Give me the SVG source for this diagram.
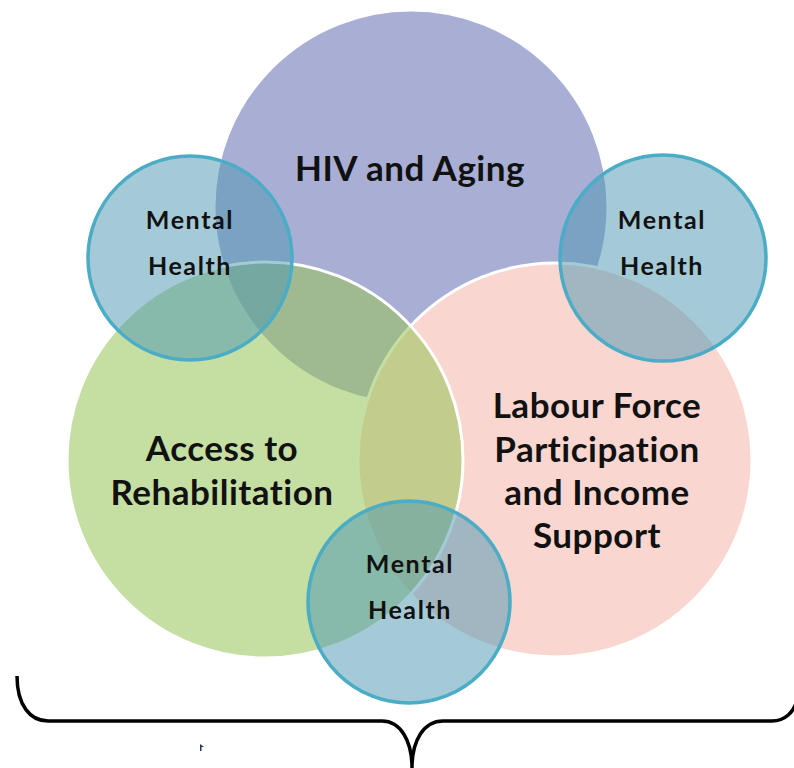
<svg xmlns="http://www.w3.org/2000/svg" width="794" height="768" viewBox="0 0 794 768">
<style>
.big{font-family:Lato,"Liberation Sans",sans-serif;font-weight:700;font-size:35px;letter-spacing:0.5px;fill:#111;text-anchor:middle}
.mh{font-family:Lato,"Liberation Sans",sans-serif;font-weight:700;font-size:25px;letter-spacing:1.6px;fill:#111;text-anchor:middle}
.blue{fill:#4A96B2;fill-opacity:0.5;stroke:#4BACC6;stroke-width:3.5}
</style>
<rect width="794" height="768" fill="#fff"/>
<g id="hiv-aging">
<circle cx="411" cy="207" r="197" fill="#A9AED5" stroke="#fff" stroke-width="3"/>
</g>
<g id="labour-force">
<circle cx="555" cy="460" r="197" fill="#F9D6D0" stroke="#fff" stroke-width="3"/>
</g>
<g id="rehabilitation">
<circle cx="265" cy="460" r="198" fill="#98C459" fill-opacity="0.56" stroke="#fff" stroke-width="3"/>
</g>
<g id="mental-health-left">
<circle class="blue" cx="190" cy="258" r="102"/>
</g>
<g id="mental-health-right">
<circle class="blue" cx="663" cy="258" r="103"/>
</g>
<g id="mental-health-bottom">
<circle class="blue" cx="409" cy="602" r="101"/>
</g>
<g id="labels">
<text class="big" x="410" y="181">HIV and Aging</text>
<text class="big" x="222" y="461">Access to</text>
<text class="big" x="222" y="505">Rehabilitation</text>
<text class="big" x="597" y="418">Labour Force</text>
<text class="big" x="597" y="462">Participation</text>
<text class="big" x="597" y="505">and Income</text>
<text class="big" x="597" y="548">Support</text>
<text class="mh" x="190" y="229">Mental</text>
<text class="mh" x="190" y="275">Health</text>
<text class="mh" x="662" y="229">Mental</text>
<text class="mh" x="662" y="275">Health</text>
<text class="mh" x="410" y="573">Mental</text>
<text class="mh" x="410" y="619">Health</text>
</g>
<g id="connectors">
<path d="M17,676 C17,705 30,721 48,721 L382,721 C400,721 412,740 412,768 C412,740 424,721 443,721 L772,721 C785,721 794,712 797,700" fill="none" stroke="#000" stroke-width="3.5"/>
</g>
<path d="M200,744 L200,751 L201.5,751 L201.5,747 L204,747 Z" fill="#223366"/>
</svg>
